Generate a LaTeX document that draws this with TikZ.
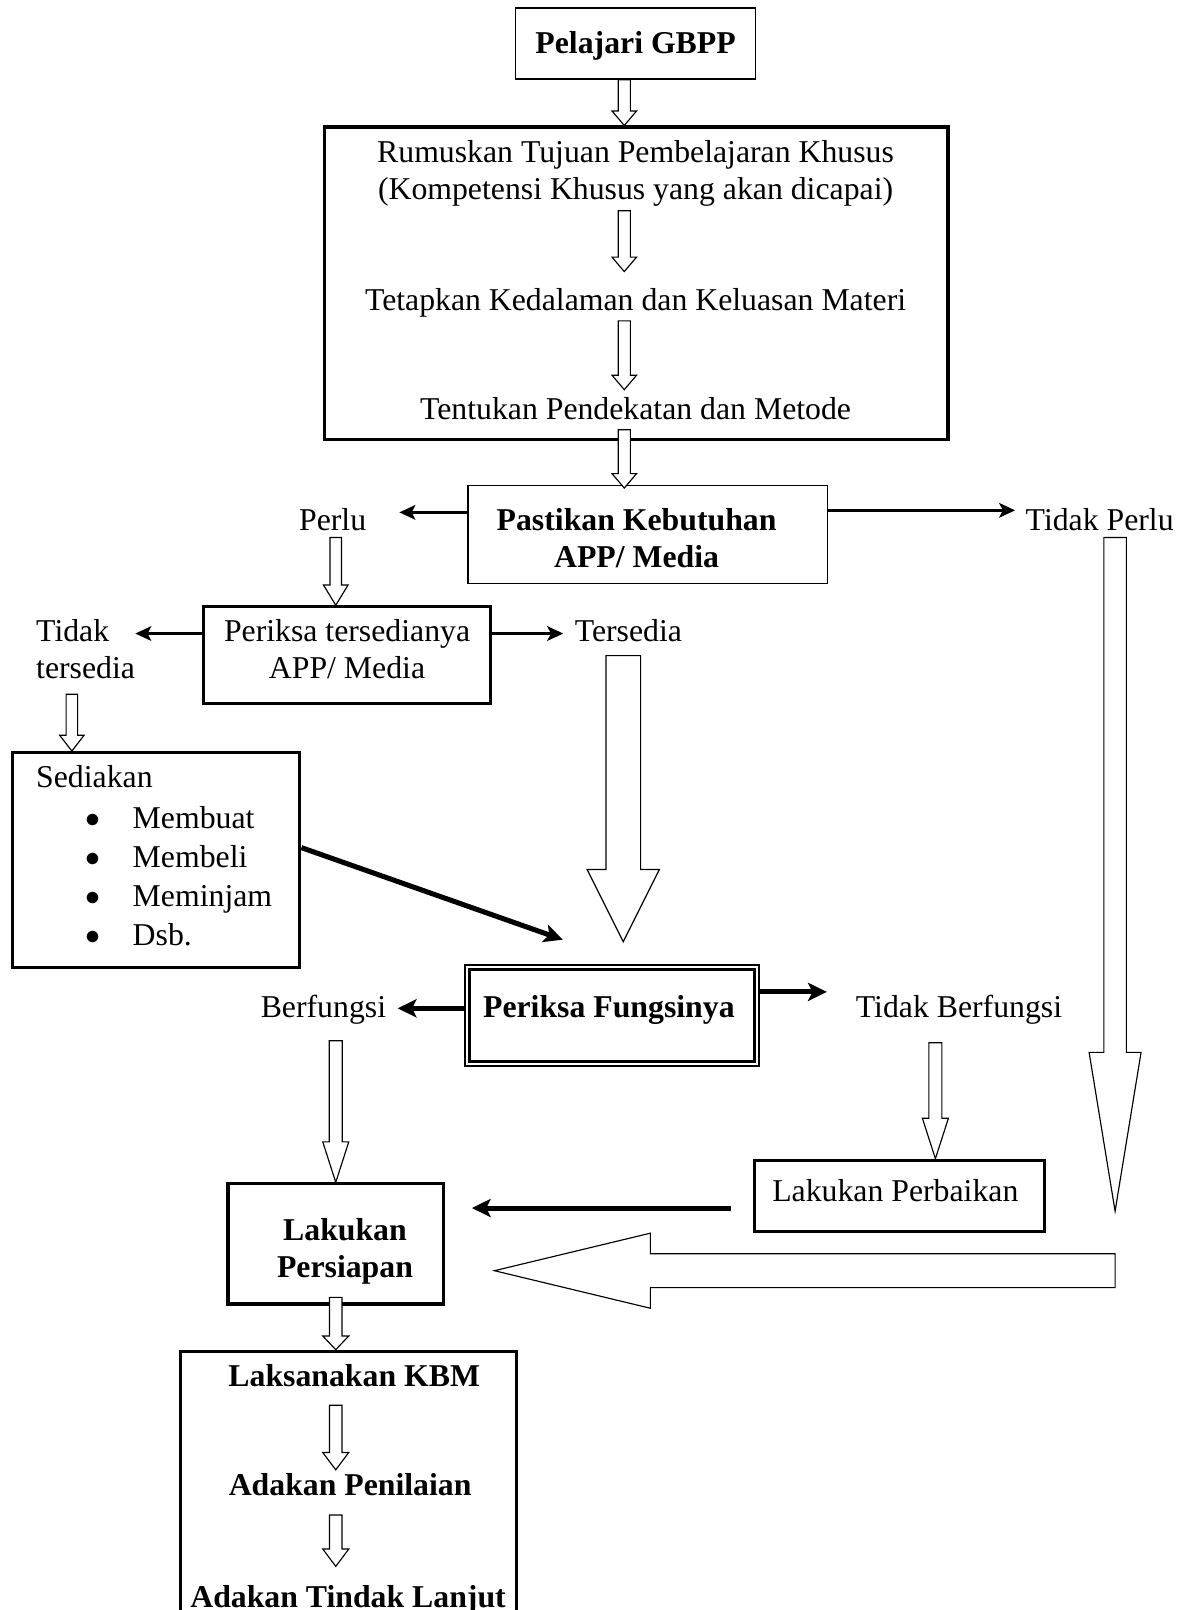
\documentclass[tikz,border=0pt]{standalone}
\usepackage{fontspec}
\setmainfont{Liberation Serif}
\usepackage{tikz}
\usetikzlibrary{arrows.meta,positioning,fit,calc}

\newcommand{\txt}{\fontsize{22}{25.5}\selectfont}
% hollow block arrow: from, to, shaft half width, head half width, head length
\newcommand{\hollowarrow}[5]{%
  \path (#1) coordinate (ha-s) (#2) coordinate (ha-t);
  \path ($(ha-t)!#5!(ha-s)$) coordinate (ha-n);
  \draw[hollow] ($(ha-s)!#3!90:(ha-t)$) -- ($(ha-n)!#3!90:(ha-t)$) -- ($(ha-n)!#4!90:(ha-t)$) -- (ha-t)
    -- ($(ha-n)!#4!-90:(ha-t)$) -- ($(ha-n)!#3!-90:(ha-t)$) -- ($(ha-s)!#3!-90:(ha-t)$) -- cycle;}

\begin{document}
\begin{tikzpicture}[x=0.025cm,y=-0.025cm,font=\txt,
    box/.style={draw,line width=1pt,inner sep=0pt},
    thickbox/.style={draw,line width=2.2pt,inner sep=0pt},
    lbl/.style={inner sep=0pt,align=center},
    lblone/.style={inner sep=0pt,text height=15.4pt,text depth=4.84pt},
    hollow/.style={draw,line width=0.8pt,fill=white},
    arr/.style={line width=2.2pt,-{Stealth[length=11pt,width=10pt,inset=2.5pt]}},
    fatarr/.style={line width=3.5pt,-{Stealth[length=13pt,width=12.5pt,inset=3pt]}}]
    \path[use as bounding box,fill=white] (0,0) rectangle (1150,1568);
    \clip (0,0) rectangle (1150,1568);
    % top chain
    \node[box,fit={(502,8) (736,77)}] (gbpp) {};
    \node[lblone,font=\txt\bfseries] (gbpptxt) at (619,45) {Pelajari GBPP};
    \node[thickbox,line width=2.6pt,fit={(316,124) (923,428)}] (tujuan) {};
    \node[lbl] (rumuskan) at (619,169) {Rumuskan Tujuan Pembelajaran Khusus\\(Kompetensi Khusus yang akan dicapai)};
    \node[lblone] (tetapkan) at (619,295) {Tetapkan Kedalaman dan Keluasan Materi};
    \node[lblone] (tentukan) at (619,401) {Tentukan Pendekatan dan Metode};
    \coordinate (col) at (608,0);
    % need of media
    \node[box,fit={(456,473) (806,568)}] (pastikan) {};
    \node[lbl,font=\txt\bfseries] (pastikantxt) at (620,524) {Pastikan Kebutuhan\\APP/ Media};
    \node[lblone] (perlu) at (324,509) {Perlu};
    \node[lblone] (tidakperlu) at (1071,509) {Tidak Perlu};
    % availability
    \node[thickbox,fit={(198,591) (478,685)}] (periksa) {};
    \node[lbl] (periksatxt) at (338,632) {Periksa tersedianya\\APP/ Media};
    \node[lbl,align=left,anchor=west] (tidak) at (35,632) {Tidak\\tersedia};
    \node[lblone] (tersedia) at (612,617) {Tersedia};
    \node[thickbox,fit={(12,733) (292,942)}] (sediakan) {};
    \node[lblone,anchor=west] (sediakantxt) at (35,760) {Sediakan};
    \foreach \y/\what [count=\i] in {799/Membuat,837/Membeli,875/Meminjam,913/Dsb.}{
      \node[inner sep=0pt] (dot\i) at (91,\y) {$\bullet$};
      \node[lblone,anchor=west] (item\i) at (129,\y) {\what};}
    % function check
    \node[box,line width=1.2pt,fit={(453,940) (739,1038)}] (fungsi) {};
    \draw[line width=1.8pt] ($(fungsi.north west)+(5,5)$) rectangle ($(fungsi.south east)+(-5,-5)$);
    \node[lblone,font=\txt\bfseries] (fungsitxt) at (593,984) {Periksa Fungsinya};
    \node[lblone] (berfungsi) at (315,984) {Berfungsi};
    \node[lblone] (tidakfungsi) at (934,984) {Tidak Berfungsi};
    \node[thickbox,fit={(735,1130) (1017,1199)}] (perbaikan) {};
    \node[lblone] (perbaikantxt) at (872,1163) {Lakukan Perbaikan};
    \node[thickbox,fit={(222,1153) (432,1270)}] (persiapan) {};
    \node[lbl,font=\txt\bfseries] (persiapantxt) at (336,1219) {Lakukan\\Persiapan};
    % teaching
    \node[thickbox,fit={(176,1316) (503,1700)}] (kbmbox) {};
    \node[lblone,font=\txt\bfseries] (kbm) at (345,1343) {Laksanakan KBM};
    \node[lblone,font=\txt\bfseries] (penilaian) at (341,1449) {Adakan Penilaian};
    \node[lblone,font=\txt\bfseries] (lanjut) at (339,1558) {Adakan Tindak Lanjut};
    % hollow arrows
    \hollowarrow{gbpp.south -| col}{tujuan.north -| col}{4.2pt}{8.5pt}{10pt}
    \hollowarrow{$(rumuskan.south -| col)+(0,4)$}{$(tetapkan.north -| col)+(0,-16)$}{4.2pt}{8.5pt}{10pt}
    \hollowarrow{$(tetapkan.south -| col)+(0,3)$}{$(tentukan.north -| col)+(0,-7)$}{4.2pt}{8.5pt}{10pt}
    \hollowarrow{$(tentukan.south -| col)+(0,3)$}{$(pastikan.north -| col)+(0,3)$}{4.2pt}{8.5pt}{10pt}
    \coordinate (a1) at ($(perlu.south)+(3,0)$);
    \hollowarrow{a1}{a1 |- periksa.north}{4pt}{8.5pt}{14pt}
    \coordinate (a2) at ($(tidak.south west)+(35,15)$);
    \hollowarrow{a2}{a2 |- sediakan.north}{4pt}{8.5pt}{11pt}
    \coordinate (a3) at ($(tersedia.south)+(-5,7)$);
    \hollowarrow{a3}{$(a3 |- fungsi.north)+(0,-22)$}{12pt}{25pt}{50pt}
    \coordinate (a4) at ($(berfungsi.south)+(12,15)$);
    \hollowarrow{a4}{a4 |- persiapan.north}{4.5pt}{9pt}{28pt}
    \coordinate (a5) at ($(tidakfungsi.south)+(-23,17)$);
    \hollowarrow{a5}{a5 |- perbaikan.north}{4.5pt}{9pt}{28pt}
    \coordinate (a6) at ($(tidakperlu.south)+(15,0)$);
    \coordinate (a7) at ($(a6 |- perbaikan.south)+(0,-21)$);
    \hollowarrow{a6}{a7}{7.8pt}{18pt}{110pt}
    \coordinate (a8) at ($(a6 |- persiapan.south)+(0,-34)$);
    \hollowarrow{a8}{$(persiapan.east |- a8)+(48,0)$}{11.7pt}{26pt}{108pt}
    \hollowarrow{$(persiapan.south)+(0,-8)$}{persiapan.south |- kbmbox.north}{4.3pt}{9pt}{9.5pt}
    \coordinate (a9) at ($(kbm.south)+(-18,11)$);
    \hollowarrow{a9}{$(a9 |- penilaian.north)+(0,-3)$}{4.3pt}{9pt}{12pt}
    \coordinate (a10) at ($(penilaian.south)+(-14,12)$);
    \hollowarrow{a10}{$(a10 |- lanjut.north)+(0,-18)$}{4.3pt}{9pt}{12pt}
    % solid arrows
    \draw[arr] ($(pastikan.west |- perlu.east)+(0,-10)$) -- ($(perlu.east)+(32,-10)$);
    \draw[arr] ($(pastikan.east |- tidakperlu.west)+(0,-12)$) -- ($(tidakperlu.west)+(-10,-12)$);
    \draw[arr] (periksa.west |- tersedia.west) -- (tidak.east |- tersedia.west);
    \draw[arr] (periksa.east |- tersedia.west) -- ($(tersedia.west)+(-11,0)$);
    \draw[fatarr] ($(sediakan.east)+(0,-12)$) -- ($(fungsi.north west)+(96,-24)$);
    \draw[fatarr,line width=3.8pt] ($(fungsi.west |- berfungsi.east)+(0,-2)$) -- ($(berfungsi.east)+(11,-2)$);
    \coordinate (a11) at ($(tidakfungsi.west)+(-28,-18)$);
    \draw[fatarr] (fungsi.east |- a11) -- (a11);
    \draw[fatarr] ($(perbaikan.west)+(-22,12)$) -- ($(persiapan.east |- perbaikan.west)+(26,12)$);
\end{tikzpicture}
\end{document}
